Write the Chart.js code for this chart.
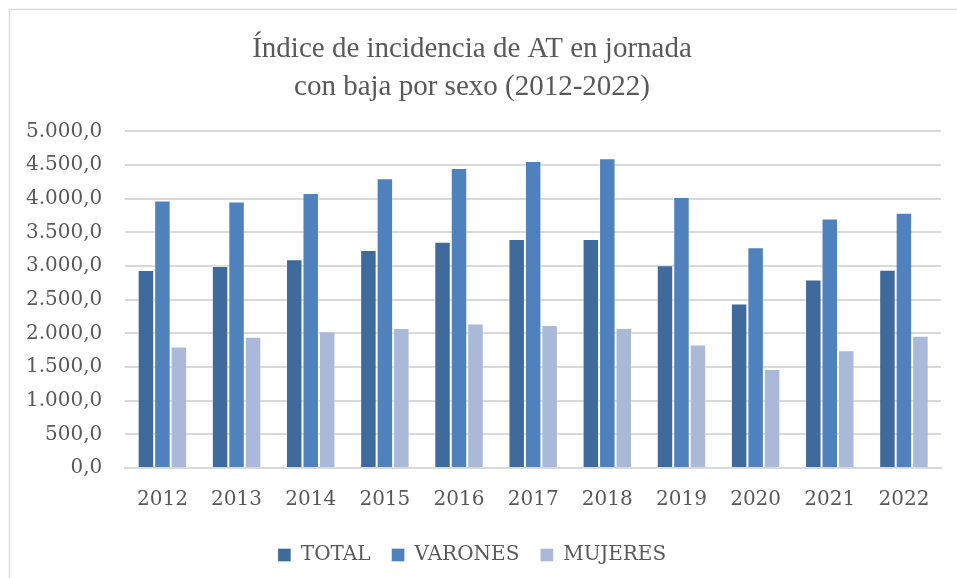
<!DOCTYPE html>
<html>
<head>
<meta charset="utf-8">
<script src="https://cdn.jsdelivr.net/npm/chart.js@4"></script>
<style>
  html, body { margin: 0; padding: 0; background: #fff; }
  #wrap { width: 957px; height: 578px; position: relative; }
</style>
</head>
<body>
<div id="wrap"><canvas id="barChart" width="957" height="578"></canvas></div>
<script>
var years = ['2012', '2013', '2014', '2015', '2016', '2017', '2018', '2019', '2020', '2021', '2022'];
var total = [2940, 3000, 3100, 3240, 3360, 3400, 3400, 3010, 2445, 2800, 2945];
var varones = [3975, 3960, 4085, 4305, 4455, 4560, 4600, 4025, 3280, 3705, 3790];
var mujeres = [1805, 1950, 2030, 2080, 2145, 2125, 2080, 1835, 1470, 1750, 1965];
var yTicks = [0, 500, 1000, 1500, 2000, 2500, 3000, 3500, 4000, 4500, 5000];

var textGrey = '#595959';
var tickFont = { family: 'DejaVu Serif', size: 20 };

function fmt(v) {
    var parts = v.toFixed(1).split('.');
    return parts[0].replace(/\B(?=(\d{3})+(?!\d))/g, '.') + ',' + parts[1];
}

// thin grey frame round the chart, as in the exported picture
var frame = {
    id: 'frame',
    beforeDraw: function (chart) {
        var c = chart.ctx;
        c.save();
        c.strokeStyle = '#d9d9d9';
        c.lineWidth = 1.5;
        c.strokeRect(9.5, 9.5, 1000, 1000);
        c.restore();
    }
};

var ctx = document.getElementById('barChart');
var barChart = new Chart(ctx, {
    type: 'bar',
    data: {
        labels: years,
        datasets: [{
            label: 'TOTAL',
            data: total,
            backgroundColor: '#3f6a9c',
            borderColor: 'rgba(255, 255, 255, 0.35)',
            borderWidth: 1
        }, {
            label: 'VARONES',
            data: varones,
            backgroundColor: '#4f81bd',
            borderColor: 'rgba(255, 255, 255, 0.35)',
            borderWidth: 1
        }, {
            label: 'MUJERES',
            data: mujeres,
            backgroundColor: '#aab9d7',
            borderColor: 'rgba(255, 255, 255, 0.35)',
            borderWidth: 1
        }]
    },
    options: {
        responsive: false,
        animation: false,
        layout: { padding: { left: 3, right: 16, top: 0, bottom: 3 } },
        datasets: {
            bar: { categoryPercentage: 0.667, barPercentage: 1.0 }
        },
        plugins: {
            title: {
                display: true,
                text: ['Índice de incidencia de AT en jornada', 'con baja por sexo (2012-2022)'],
                color: textGrey,
                font: { family: 'Liberation Serif', size: 29, weight: 'normal', lineHeight: 1.3 },
                padding: { top: 31, bottom: 25 }
            },
            legend: {
                position: 'bottom',
                labels: {
                    color: textGrey,
                    font: tickFont,
                    boxWidth: 13,
                    boxHeight: 13,
                    padding: 21
                }
            },
            tooltip: { enabled: false }
        },
        scales: {
            x: {
                grid: { display: false },
                border: { color: '#d9d9d9', width: 2 },
                ticks: { color: textGrey, font: tickFont, padding: 12 }
            },
            y: {
                min: 0,
                max: 5000,
                afterBuildTicks: function (axis) {
                    axis.ticks = yTicks.map(function (v) { return { value: v }; });
                },
                grid: { color: '#d9d9d9', lineWidth: 2, drawTicks: false },
                border: { display: false },
                ticks: {
                    color: textGrey,
                    font: tickFont,
                    padding: 23,
                    callback: function (v) { return fmt(v); }
                }
            }
        }
    },
    plugins: [frame]
});
</script>
</body>
</html>
